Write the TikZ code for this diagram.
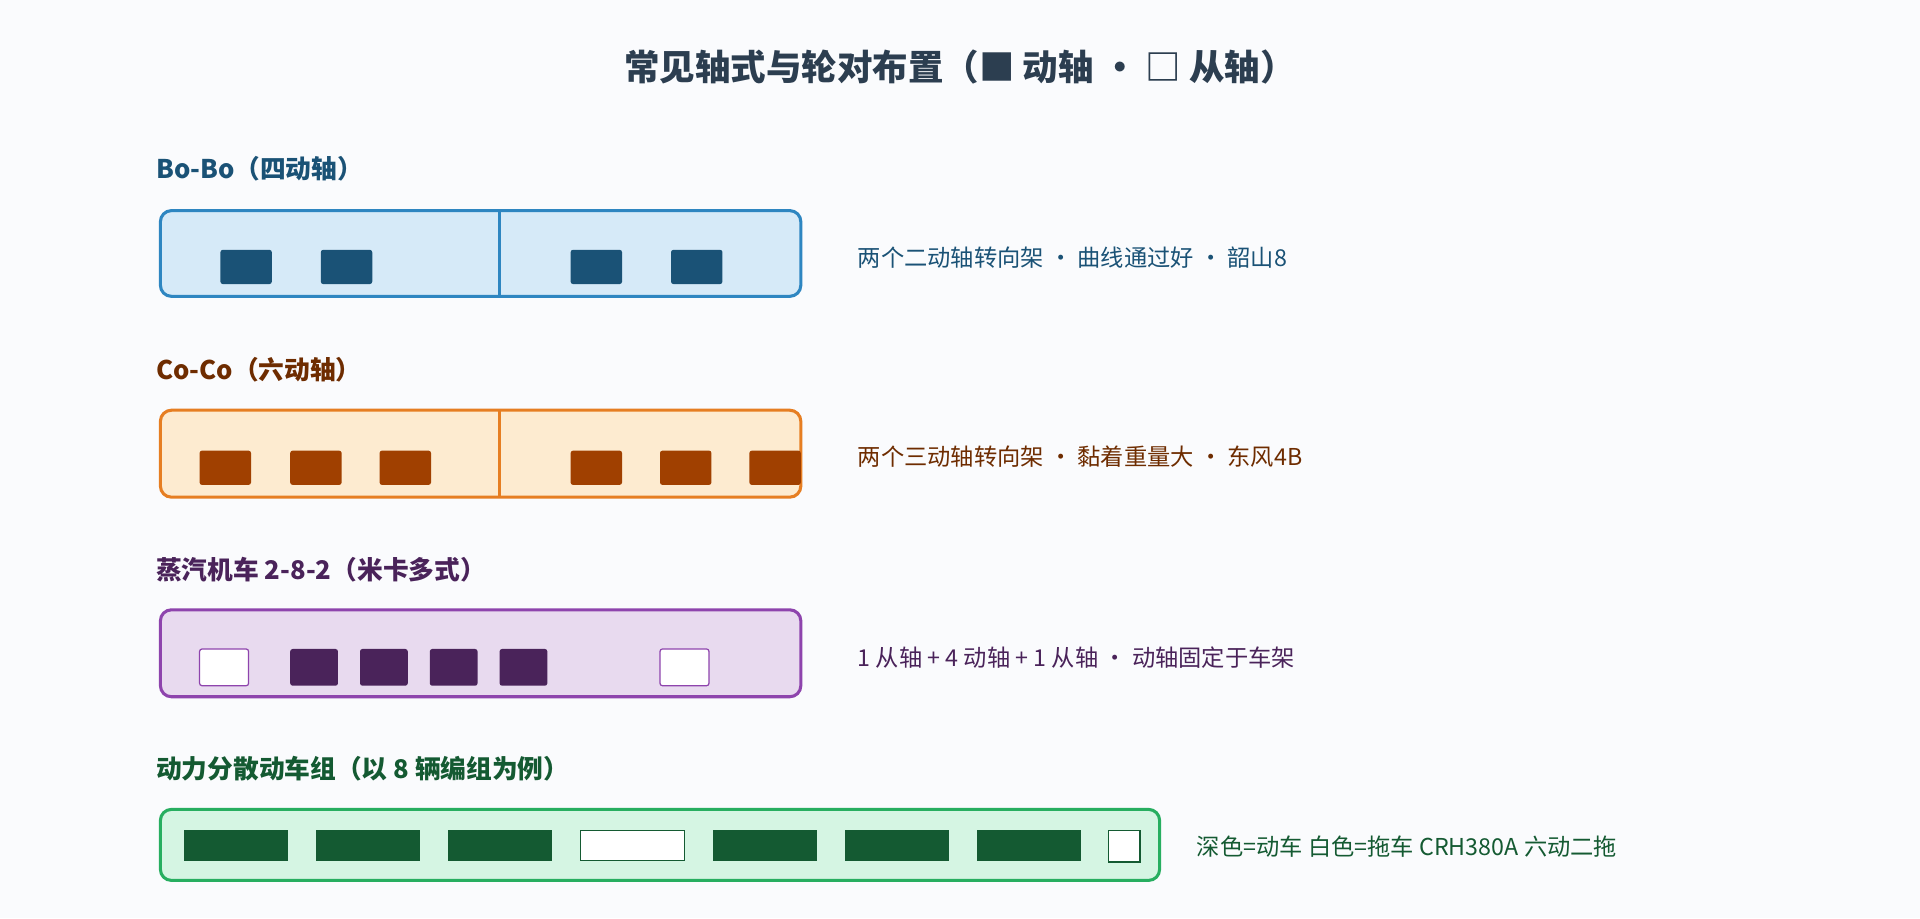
\documentclass[tikz,border=0pt]{standalone}
\usepackage{fontspec}
\setmainfont{Noto Sans CJK SC}
\definecolor{c1}{HTML}{1A5276}\definecolor{c2}{HTML}{6E2C00}\definecolor{c3}{HTML}{4A235A}\definecolor{c4}{HTML}{145A32}
\definecolor{bg}{HTML}{FAFBFD}\definecolor{tt}{HTML}{2C3E50}
\definecolor{f1}{HTML}{D6EAF8}\definecolor{s1}{HTML}{2E86C1}
\definecolor{f2}{HTML}{FDEBD0}\definecolor{s2}{HTML}{E67E22}\definecolor{w2}{HTML}{A04000}
\definecolor{f3}{HTML}{E8DAEF}\definecolor{s3}{HTML}{8E44AD}
\definecolor{f4}{HTML}{D5F5E3}\definecolor{s4}{HTML}{27AE60}
\begin{document}
\begin{tikzpicture}[x=1pt,y=-1pt,
 box/.style={rounded corners=9pt,line width=2.5pt},
 whl/.style={rounded corners=2pt},
 lab/.style={anchor=west,font=\fontsize{21}{24}\selectfont\bfseries},
 note/.style={anchor=west,font=\fontsize{19}{22}\selectfont}]
\useasboundingbox[fill=bg] (0,0) rectangle (1568,750);
\node[font=\fontsize{29}{32}\selectfont\bfseries,text=tt] (title) at (784,55) {常见轴式与轮对布置（■ 动轴 • □ 从轴）};
% Row 1
\node[lab,text=c1] (l1) at (124,138) {Bo-Bo（四动轴）};
\draw[box,fill=f1,draw=s1] (131,172) rectangle (654,242);
\draw[line width=2.5pt,draw=s1] (408,172)--(408,242);
\foreach \a in {180,262,466,548}{\fill[whl,c1] (\a,204) rectangle ++(42,28);}
\node[note,text=c1] (n1) at (697,210) {两个二动轴转向架 · 曲线通过好 · 韶山8};
% Row 2
\node[lab,text=c2] (l2) at (124,302) {Co-Co（六动轴）};
\draw[box,fill=f2,draw=s2] (131,335) rectangle (654,406);
\draw[line width=2.5pt,draw=s2] (408,335)--(408,406);
\foreach \a in {163,237,310,466,539,612}{\fill[whl,w2] (\a,368) rectangle ++(42,28);}
\node[note,text=c2] (n2) at (697,373) {两个三动轴转向架 · 黏着重量大 · 东风4B};
% Row 3
\node[lab,text=c3] (l3) at (124,465) {蒸汽机车 2-8-2（米卡多式）};
\draw[box,fill=f3,draw=s3] (131,498) rectangle (654,569);
\foreach \a in {163,539}{\draw[whl,fill=white,draw=s3,line width=1pt] (\a,530) rectangle ++(40,30);}
\foreach \a in {237,294,351,408}{\fill[whl,c3] (\a,530) rectangle ++(39,30);}
\node[note,text=c3] (n3) at (697,537) {1 从轴 + 4 动轴 + 1 从轴 · 动轴固定于车架};
% Row 4
\node[lab,text=c4] (l4) at (124,628) {动力分散动车组（以 8 辆编组为例）};
\draw[box,fill=f4,draw=s4] (131,661) rectangle (947,719);
\foreach \a in {150,258,366,582,690,798}{\fill[c4] (\a,678) rectangle ++(85,25);}
\draw[fill=white,draw=c4,line width=1pt] (474,678) rectangle ++(85,25);
\draw[fill=white,draw=c4,line width=1pt] (905,678) rectangle ++(26,26);
\node[note,text=c4] (n4) at (974,691) {深色=动车 白色=拖车 CRH380A 六动二拖};
\end{tikzpicture}
\end{document}
